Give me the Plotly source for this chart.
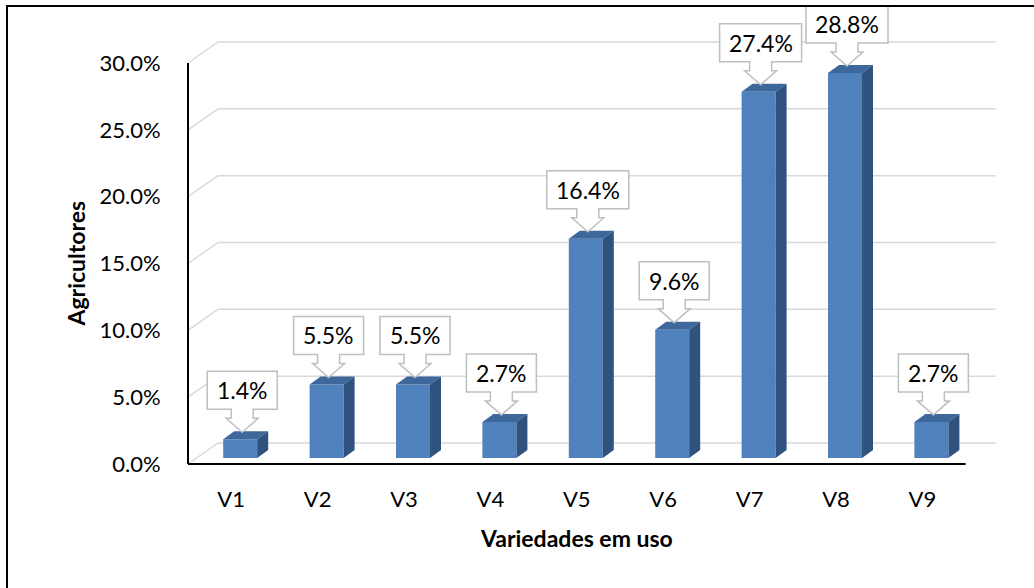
import plotly.graph_objects as go

categories = ["V1", "V2", "V3", "V4", "V5", "V6", "V7", "V8", "V9"]
shares = [0.014, 0.055, 0.055, 0.027, 0.164, 0.096, 0.274, 0.288, 0.027]
y_ticks = [0.0, 0.05, 0.10, 0.15, 0.20, 0.25, 0.30]

FRONT = "#4F81BD"
TOP = "#3E679B"
SIDE = "#30527F"
GRID = "#D9D9D9"
BOX_LINE = "#BFBFBF"
FONT = "Lato"

# pixel geometry of the plot (used to turn 3D offsets into data units)
W, H = 1034, 588
L_M, R_M, T_M, B_M = 180, 24, 6, 110
AX_LEFT_PX, ZERO_PX, TOP_TICK_PX = 188, 464, 63
SX = 86.4                                   # px per category
SY = (ZERO_PX - TOP_TICK_PX) / y_ticks[-1]  # px per unit share

x_min = -0.5 - (AX_LEFT_PX - L_M) / SX
x_max = x_min + (W - L_M - R_M) / SX
y_min = -(H - B_M - ZERO_PX) / SY
y_max = (ZERO_PX - T_M) / SY

WALL_DX, WALL_DY = 30 / SX, 21 / SY
FACE_DX, FACE_DY = 9 / SX, 6 / SY
BAR_W = 34 / SX
DEP_DX, DEP_DY = 11 / SX, 8 / SY
TIP_DX, TIP_DY = 11 / SX, 13 / SY

n = len(categories)
xs = list(range(n))

fig = go.Figure()

# front faces
fig.add_trace(go.Bar(
    x=[i + FACE_DX for i in xs], y=shares, base=FACE_DY, width=BAR_W,
    marker=dict(color=FRONT, line=dict(width=0)),
    hoverinfo="skip", showlegend=False,
))

# top and side faces
top_x, top_y, side_x, side_y = [], [], [], []
for i, v in zip(xs, shares):
    xl = i + FACE_DX - BAR_W / 2
    xr = xl + BAR_W
    yt = v + FACE_DY
    top_x += [xl, xr, xr + DEP_DX, xl + DEP_DX, xl, None]
    top_y += [yt, yt, yt + DEP_DY, yt + DEP_DY, yt, None]
    side_x += [xr, xr, xr + DEP_DX, xr + DEP_DX, xr, None]
    side_y += [FACE_DY, yt, yt + DEP_DY, FACE_DY + DEP_DY, FACE_DY, None]

fig.add_trace(go.Scatter(x=top_x, y=top_y, fill="toself", fillcolor=TOP,
                         mode="lines", line=dict(width=0, color=TOP),
                         hoverinfo="skip", showlegend=False))
fig.add_trace(go.Scatter(x=side_x, y=side_y, fill="toself", fillcolor=SIDE,
                         mode="lines", line=dict(width=0, color=SIDE),
                         hoverinfo="skip", showlegend=False))

shapes = []
# back wall gridlines + left wall diagonals
for t in y_ticks:
    shapes.append(dict(type="line", xref="x", yref="y", layer="below",
                       x0=-0.5 + WALL_DX, x1=n - 0.5 + WALL_DX,
                       y0=t + WALL_DY, y1=t + WALL_DY,
                       line=dict(color=GRID, width=1.5)))
    shapes.append(dict(type="line", xref="x", yref="y", layer="below",
                       x0=-0.5, x1=-0.5 + WALL_DX, y0=t, y1=t + WALL_DY,
                       line=dict(color=GRID, width=1.5)))

# front axis lines
shapes.append(dict(type="line", xref="x", yref="y", x0=-0.5, x1=-0.5,
                   y0=0, y1=y_ticks[-1], line=dict(color="black", width=2)))
shapes.append(dict(type="line", xref="x", yref="y", x0=-0.5, x1=n - 0.5,
                   y0=0, y1=0, line=dict(color="black", width=2)))

# callouts
annotations = []
for i, v in zip(xs, shares):
    label = f"{v * 100:.1f}%"
    hw = (12 * len(label) + 22) / 2
    path = (f"M0,0 L16,14 L11,14 L11,23 L{hw},23 L{hw},61 "
            f"L{-hw},61 L{-hw},23 L-11,23 L-11,14 L-16,14 Z")
    shapes.append(dict(type="path", xref="x", yref="y",
                       xsizemode="pixel", ysizemode="pixel",
                       xanchor=i + TIP_DX, yanchor=v + TIP_DY,
                       path=path, fillcolor="white", layer="above",
                       line=dict(color=BOX_LINE, width=1.5)))
    annotations.append(dict(x=i + TIP_DX, y=v + TIP_DY, xref="x", yref="y",
                            text=label, showarrow=False, yshift=42,
                            font=dict(family=FONT, size=23, color="black")))

# outer border
shapes.append(dict(type="rect", xref="paper", yref="paper",
                   x0=(7 - L_M) / (W - L_M - R_M), x1=1.2,
                   y0=-0.5, y1=1,
                   line=dict(color="black", width=2), fillcolor="rgba(0,0,0,0)"))

# axis titles
annotations.append(dict(text="<b>Agricultores</b>", textangle=-90,
                        xref="paper", yref="y", xanchor="center",
                        yanchor="middle",
                        x=(75 - L_M) / (W - L_M - R_M), y=y_ticks[-1] / 2,
                        showarrow=False,
                        font=dict(family=FONT, size=23, color="black")))
annotations.append(dict(text="<b>Variedades em uso</b>",
                        xref="x", yref="paper", xanchor="center",
                        x=(n - 1) / 2, y=-(538 - (H - B_M)) / (H - T_M - B_M),
                        showarrow=False, yanchor="middle",
                        font=dict(family=FONT, size=23, color="black")))

fig.update_layout(
    width=W, height=H,
    plot_bgcolor="white", paper_bgcolor="white",
    margin=dict(l=L_M, r=R_M, t=T_M, b=B_M),
    font=dict(family=FONT, size=22, color="black"),
    showlegend=False,
    shapes=shapes,
    annotations=annotations,
    xaxis=dict(range=[x_min, x_max], tickvals=xs, ticktext=categories,
               showgrid=False, zeroline=False, showline=False,
               ticks="outside", ticklen=2, tickcolor="rgba(0,0,0,0)",
               automargin=False, fixedrange=True),
    yaxis=dict(range=[y_min, y_max], tickvals=y_ticks, tickformat=".1%",
               showgrid=False, zeroline=False, showline=False,
               ticks="outside", ticklen=14, tickcolor="rgba(0,0,0,0)",
               automargin=False, fixedrange=True),
)

fig.write_html("out.html", config=dict(displayModeBar=False),
               post_script="document.body.style.margin='0';")
